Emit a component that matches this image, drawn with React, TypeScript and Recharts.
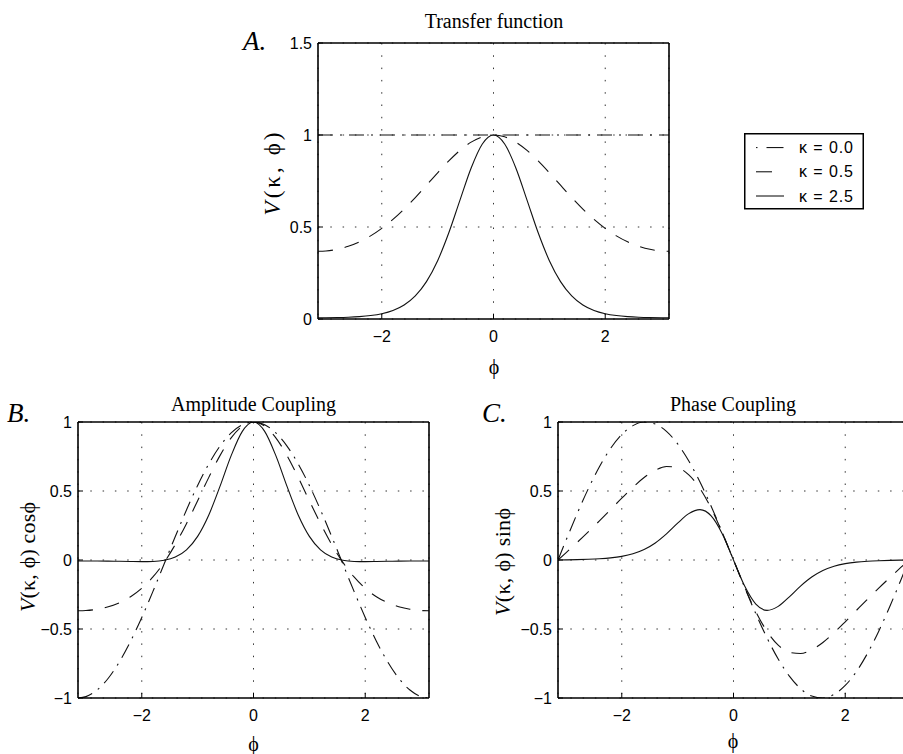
import React from 'react';
import { LineChart, Line, XAxis, YAxis, CartesianGrid, Legend } from 'recharts';

// phase values (radians)
const PHI = [-3.1416, -3.0, -2.8, -2.6, -2.4, -2.2, -2.0, -1.8, -1.6, -1.4, -1.2, -1.0, -0.8, -0.6, -0.4, -0.2, 0,
  0.2, 0.4, 0.6, 0.8, 1.0, 1.2, 1.4, 1.6, 1.8, 2.0, 2.2, 2.4, 2.6, 2.8, 3.0, 3.1416];

// A. Transfer function V(kappa, phi)
const A_K00 = [1, 1, 1, 1, 1, 1, 1, 1, 1, 1, 1, 1, 1, 1, 1, 1, 1, 1, 1, 1, 1, 1, 1, 1, 1, 1, 1, 1, 1, 1, 1, 1, 1];
const A_K05 = [0.3679, 0.3697, 0.3787, 0.3952, 0.4195, 0.4519, 0.4926, 0.5414, 0.5977, 0.6603, 0.7270, 0.7947, 0.8593, 0.9164, 0.9613, 0.9901, 1,
  0.9901, 0.9613, 0.9164, 0.8593, 0.7947, 0.7270, 0.6603, 0.5977, 0.5414, 0.4926, 0.4519, 0.4195, 0.3952, 0.3787, 0.3697, 0.3679];
const A_K25 = [0.0067, 0.0069, 0.0078, 0.0096, 0.0130, 0.0189, 0.0290, 0.0465, 0.0763, 0.1256, 0.2031, 0.3169, 0.4685, 0.6462, 0.8209, 0.9514, 1,
  0.9514, 0.8209, 0.6462, 0.4685, 0.3169, 0.2031, 0.1256, 0.0763, 0.0465, 0.0290, 0.0189, 0.0130, 0.0096, 0.0078, 0.0069, 0.0067];

// B. Amplitude coupling V cos(phi)
const B_K00 = [-1, -0.9900, -0.9422, -0.8569, -0.7374, -0.5885, -0.4161, -0.2272, -0.0292, 0.1700, 0.3624, 0.5403, 0.6967, 0.8253, 0.9211, 0.9801, 1,
  0.9801, 0.9211, 0.8253, 0.6967, 0.5403, 0.3624, 0.1700, -0.0292, -0.2272, -0.4161, -0.5885, -0.7374, -0.8569, -0.9422, -0.9900, -1];
const B_K05 = [-0.3679, -0.3660, -0.3568, -0.3386, -0.3093, -0.2660, -0.2050, -0.1230, -0.0175, 0.1122, 0.2634, 0.4294, 0.5987, 0.7563, 0.8854, 0.9704, 1,
  0.9704, 0.8854, 0.7563, 0.5987, 0.4294, 0.2634, 0.1122, -0.0175, -0.1230, -0.2050, -0.2660, -0.3093, -0.3386, -0.3568, -0.3660, -0.3679];
const B_K25 = [-0.0067, -0.0068, -0.0073, -0.0083, -0.0096, -0.0111, -0.0121, -0.0106, -0.0022, 0.0213, 0.0736, 0.1712, 0.3264, 0.5333, 0.7561, 0.9324, 1,
  0.9324, 0.7561, 0.5333, 0.3264, 0.1712, 0.0736, 0.0213, -0.0022, -0.0106, -0.0121, -0.0111, -0.0096, -0.0083, -0.0073, -0.0068, -0.0067];

// C. Phase coupling V sin(phi)
const C_K00 = [0, 0.1411, 0.3350, 0.5155, 0.6755, 0.8085, 0.9093, 0.9738, 0.9996, 0.9854, 0.9320, 0.8415, 0.7174, 0.5646, 0.3894, 0.1987, 0,
  -0.1987, -0.3894, -0.5646, -0.7174, -0.8415, -0.9320, -0.9854, -0.9996, -0.9738, -0.9093, -0.8085, -0.6755, -0.5155, -0.3350, -0.1411, 0];
const C_K05 = [0, 0.0522, 0.1269, 0.2037, 0.2834, 0.3654, 0.4479, 0.5272, 0.5975, 0.6507, 0.6776, 0.6687, 0.6164, 0.5174, 0.3744, 0.1967, 0,
  -0.1967, -0.3744, -0.5174, -0.6164, -0.6687, -0.6776, -0.6507, -0.5975, -0.5272, -0.4479, -0.3654, -0.2834, -0.2037, -0.1269, -0.0522, 0];
const C_K25 = [0, 0.0010, 0.0026, 0.0050, 0.0088, 0.0152, 0.0264, 0.0453, 0.0763, 0.1237, 0.1893, 0.2666, 0.3361, 0.3649, 0.3197, 0.1890, 0,
  -0.1890, -0.3197, -0.3649, -0.3361, -0.2666, -0.1893, -0.1237, -0.0763, -0.0453, -0.0264, -0.0152, -0.0088, -0.0050, -0.0026, -0.0010, 0];

const X_TICKS = [-2, 0, 2];
const A_Y_TICKS = [0, 0.5, 1, 1.5];
const BC_Y_TICKS = [-1, -0.5, 0, 0.5, 1];

const SERIES = [
  { key: 'k00', name: 'κ = 0.0', dash: '15 7 2 7', legendDash: '1.5 9 17 30' },
  { key: 'k05', name: 'κ = 0.5', dash: '15 12', legendDash: '16 30' },
  { key: 'k25', name: 'κ = 2.5', dash: undefined, legendDash: undefined },
];

const build = (k00: number[], k05: number[], k25: number[]) =>
  PHI.map((phi, i) => ({ phi, k00: k00[i], k05: k05[i], k25: k25[i] }));

const DATA_A = build(A_K00, A_K05, A_K25);
const DATA_B = build(B_K00, B_K05, B_K25);
const DATA_C = build(C_K00, C_K05, C_K25);

const SANS = '"Liberation Sans", Arial, Helvetica, sans-serif';
const SERIF = '"Liberation Serif", "Times New Roman", serif';
const PHI_CH = '\u03D5';
const TICK_FONT = 16;

const fmt = (v: number) => (v < 0 ? '\u2212' + String(Math.abs(v)) : String(v));

const XTick = (p: any) => (
  <text x={p.x} y={p.y} dy="0.71em" textAnchor="middle" fontFamily={SANS} fontSize={TICK_FONT} fill="#000">
    {fmt(p.payload.value)}
  </text>
);
const YTick = (p: any) => (
  <text x={p.x} y={p.y} dy="0.36em" textAnchor="end" fontFamily={SANS} fontSize={TICK_FONT} fill="#000">
    {fmt(p.payload.value)}
  </text>
);

const LegendBox = () => (
  <svg width={120} height={77} style={{ display: 'block' }}>
    <rect x={0.75} y={0.75} width={118.5} height={75} fill="#fff" stroke="#000" strokeWidth={1.5} />
    {SERIES.map((s, i) => {
      const cy = 14.6 + i * 24.2;
      return (
        <g key={s.key}>
          <line x1={12} x2={40} y1={cy} y2={cy} stroke="#000" strokeWidth={1} strokeDasharray={s.legendDash} />
          <text x={55} y={cy + 5.5} fontFamily={SANS} fontSize={16} fill="#000" textLength={54} lengthAdjust="spacing">{s.name}</text>
        </g>
      );
    })}
  </svg>
);

type PanelProps = {
  data: any[];
  width: number;
  height: number;
  margin: { top: number; right: number; bottom: number; left: number };
  yDomain: [number, number];
  yTicks: number[];
  legend?: boolean;
};

// axes take 1px each; margins below are reduced accordingly
function Panel({ data, width, height, margin, yDomain, yTicks, legend }: PanelProps) {
  const axisLine = { stroke: '#000', strokeWidth: 1.6 };
  const tickLine = { stroke: '#000', strokeWidth: 1 };
  const m = { top: margin.top - 1, right: margin.right - 1, bottom: margin.bottom - 1, left: margin.left - 1 };
  return (
    <LineChart width={width} height={height} data={data} margin={m}>
      <CartesianGrid stroke="#333" strokeWidth={1} strokeDasharray="1.5 10.8" />
      <XAxis dataKey="phi" type="number" domain={[-Math.PI, Math.PI]} allowDataOverflow ticks={X_TICKS}
        interval={0} height={1} tickSize={-5} tickMargin={17}
        tick={XTick} axisLine={axisLine} tickLine={tickLine} />
      <XAxis xAxisId="top" orientation="top" type="number" domain={[-Math.PI, Math.PI]} allowDataOverflow ticks={X_TICKS}
        interval={0} height={1} tickSize={-5} tick={false} axisLine={axisLine} tickLine={tickLine} />
      <YAxis type="number" domain={yDomain} allowDataOverflow ticks={yTicks} interval={0} width={1}
        tickSize={-5} tickMargin={11} tick={YTick} axisLine={axisLine} tickLine={tickLine} />
      <YAxis yAxisId="right" orientation="right" type="number" domain={yDomain} allowDataOverflow ticks={yTicks}
        interval={0} width={1} tickSize={-5} tick={false} axisLine={axisLine} tickLine={tickLine} />
      {SERIES.map((s) => (
        <Line key={s.key} dataKey={s.key} name={s.name} type="monotone" stroke="#111" strokeWidth={1.1}
          strokeDasharray={s.dash} dot={false} activeDot={false} isAnimationActive={false} />
      ))}
      {legend && (
        <Legend layout="vertical" align="center" verticalAlign="middle" content={LegendBox}
          wrapperStyle={{ position: 'absolute', left: 744, top: 133, width: 120, height: 77 }} />
      )}
    </LineChart>
  );
}

export default function App() {
  return (
    <div style={{ position: 'absolute', left: 0, top: 0, width: 903, height: 754, overflow: 'hidden', background: '#fff' }}>
      <div style={{ position: 'absolute', left: 0, top: 0 }}>
        <Panel data={DATA_A} width={903} height={390} margin={{ top: 43, right: 234, bottom: 71, left: 318 }}
          yDomain={[0, 1.5]} yTicks={A_Y_TICKS} legend />
      </div>
      <div style={{ position: 'absolute', left: 0, top: 380 }}>
        <Panel data={DATA_B} width={470} height={374} margin={{ top: 42, right: 41, bottom: 56, left: 78 }}
          yDomain={[-1, 1]} yTicks={BC_Y_TICKS} />
      </div>
      <div style={{ position: 'absolute', left: 460, top: 380 }}>
        <Panel data={DATA_C} width={460} height={374} margin={{ top: 42, right: 11, bottom: 56, left: 98 }}
          yDomain={[-1, 1]} yTicks={BC_Y_TICKS} />
      </div>
      <svg width={903} height={754} style={{ position: 'absolute', left: 0, top: 0, pointerEvents: 'none' }}>
        <g fontFamily={SERIF} fill="#000">
          <text x={494} y={28} fontSize={20} textAnchor="middle">Transfer function</text>
          <text x={243} y={50} fontSize={27} fontStyle="italic">A.</text>
          <text x={253.5} y={411} fontSize={20} textAnchor="middle">Amplitude Coupling</text>
          <text x={7} y={422} fontSize={27} fontStyle="italic">B.</text>
          <text x={733} y={411} fontSize={20} textAnchor="middle">Phase Coupling</text>
          <text x={482} y={422} fontSize={27} fontStyle="italic">C.</text>

          <text transform="translate(272,174) rotate(-90)" fontSize={23} textAnchor="middle" dominantBaseline="central"
            textLength={83} lengthAdjust="spacing">
            <tspan fontStyle="italic">V</tspan>(κ, {PHI_CH})
          </text>
          <text transform="translate(27,557) rotate(-90)" fontSize={22} textAnchor="middle" dominantBaseline="central"
            textLength={110} lengthAdjust="spacing">
            <tspan fontStyle="italic">V</tspan>(κ, {PHI_CH}) cos{PHI_CH}
          </text>
          <text transform="translate(502,562) rotate(-90)" fontSize={22} textAnchor="middle" dominantBaseline="central"
            textLength={108} lengthAdjust="spacing">
            <tspan fontStyle="italic">V</tspan>(κ, {PHI_CH}) sin{PHI_CH}
          </text>

          <text x={494} y={374} fontSize={20} textAnchor="middle">{PHI_CH}</text>
          <text x={253.5} y={751} fontSize={20} textAnchor="middle">{PHI_CH}</text>
          <text x={733} y={748} fontSize={20} textAnchor="middle">{PHI_CH}</text>
        </g>
      </svg>
    </div>
  );
}
